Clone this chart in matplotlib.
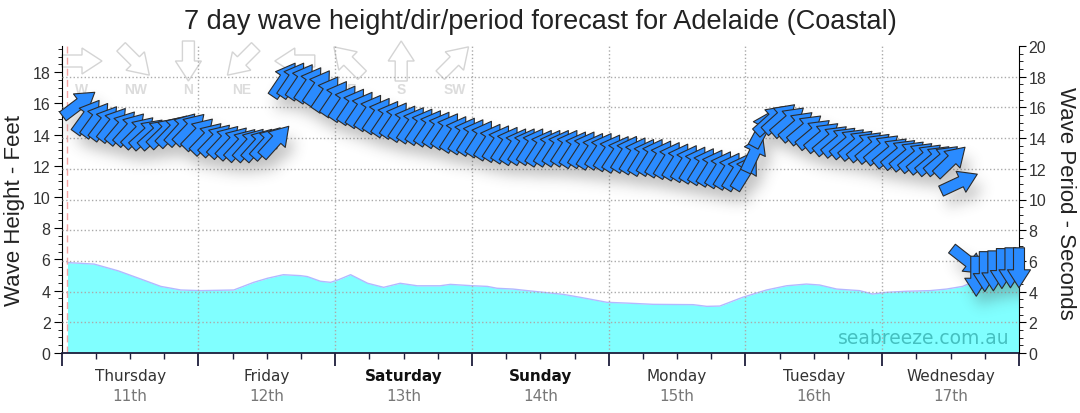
import matplotlib
matplotlib.use("Agg")
import matplotlib.pyplot as plt
import numpy as np
from matplotlib.collections import PolyCollection
from matplotlib.patches import Polygon
from matplotlib.path import Path
from matplotlib.transforms import IdentityTransform

#------------------------------------------------------------------------------
# Data (x in hours since midnight, Thursday 11th)
day_names = ["Thursday", "Friday", "Saturday", "Sunday", "Monday", "Tuesday", "Wednesday"]
day_dates = ["11th", "12th", "13th", "14th", "15th", "16th", "17th"]
weekend = ["Saturday", "Sunday"]
now_hour = 0.9

# wave height (feet), cyan area
height_hours = [1.0, 5.7, 9.9, 13.9, 17.4, 20.9, 24.4, 30.2, 33.7, 36.1, 38.9, 41.9,
                43.1, 45.4, 47.2, 48.6, 50.7, 53.7, 56.5, 59.4, 62.4, 66.4, 68.2, 72.2,
                74.7, 76.4, 79.2, 82.7, 88.0, 91.0, 95.7, 99.2, 103.8, 110.8, 113.2, 115.5,
                119.5, 123.7, 127.2, 130.7, 133.0, 136.0, 140.0, 142.3, 144.8, 148.3, 152.4, 155.3,
                158.1, 159.8, 162.8, 165.4, 168.0]
height_feet = [5.8, 5.7, 5.27, 4.74, 4.27, 4.04, 4.0, 4.04, 4.53, 4.79, 5.02, 4.96,
               4.9, 4.6, 4.53, 4.7, 5.02, 4.47, 4.21, 4.47, 4.31, 4.31, 4.4, 4.31,
               4.27, 4.15, 4.1, 3.96, 3.76, 3.57, 3.25, 3.2, 3.12, 3.1, 2.99, 3.01,
               3.57, 4.04, 4.31, 4.42, 4.36, 4.1, 4.0, 3.78, 3.89, 3.96, 4.0, 4.1,
               4.27, 4.53, 4.85, 5.0, 5.0]

# wave period (seconds) and direction (degrees, coming from), arrows
arrow_hours = [
    3.0, 4.5, 6.0, 7.5, 9.0, 10.5, 12.0, 13.5, 15.0, 16.5, 18.0, 19.5, 21.0, 22.5,
    24.0, 25.5, 27.0, 28.5, 30.0, 31.5, 33.0, 34.5, 36.0, 37.5, 39.0, 40.5, 42.0, 43.5, 45.0, 46.5,
    48.0, 49.5, 51.0, 52.5, 54.0, 55.5, 57.0, 58.5, 60.0, 61.5, 63.0, 64.5, 66.0, 67.5, 69.0, 70.5,
    72.0, 73.5, 75.0, 76.5, 78.0, 79.5, 81.0, 82.5, 84.0, 85.5, 87.0, 88.5, 90.0, 91.5, 93.0, 94.5,
    96.0, 97.5, 99.0, 100.5, 102.0, 103.5, 105.0, 106.5, 108.0, 109.5, 111.0, 112.5, 114.0, 115.5, 117.0, 118.5,
    120.0, 121.5, 123.0, 124.5, 126.0, 127.5, 129.0, 130.5, 132.0, 133.5, 135.0, 136.5, 138.0, 139.5, 141.0, 142.5,
    144.0, 145.5, 147.0, 148.5, 150.0, 151.5, 153.0, 154.5, 156.0, 157.5, 159.0, 160.5, 162.0, 163.5, 165.0, 166.5, 168.0,
]
periods = [
    16.2,
    15.4, 15.2, 15.0, 14.9, 14.7, 14.6, 14.4, 14.3, 14.3, 14.4, 14.5, 14.6,
    14.6, 14.3, 14.0, 13.9, 13.8, 13.7, 13.6, 13.6, 13.6, 13.7, 13.8,
    17.8, 17.8, 17.7, 17.5, 17.3, 16.9, 16.6, 16.3, 16.1, 15.9,
    15.7, 15.5, 15.3, 15.2, 15.0, 14.9, 14.8, 14.7, 14.6, 14.5,
    14.3, 14.2, 14.1, 14.0, 13.8, 13.7, 13.6, 13.5, 13.5, 13.5,
    13.4, 13.4, 13.4, 13.4, 13.3, 13.3, 13.2, 13.2, 13.1, 13.0,
    13.0, 12.9, 12.8, 12.8, 12.7, 12.6, 12.5, 12.4, 12.3, 12.2,
    12.1, 12.0, 11.9, 11.8, 11.8,
    13.0, 14.6,
    15.2, 15.3, 15.1, 14.8, 14.6, 14.3, 14.1, 13.9, 13.8, 13.7, 13.6,
    13.5, 13.4, 13.3, 13.1, 13.0, 12.9, 12.8, 12.7, 12.6, 12.6, 12.5,
    11.1,
    6.0,
    5.0, 5.3, 5.35, 5.5, 5.55, 5.55,
]
directions = [
    233,
    216, 216, 217, 218, 220, 222, 225, 228, 228, 226, 224, 222,
    224, 224, 224, 224, 223, 223, 223, 222, 222, 222, 222,
    214, 214, 214, 214, 214, 214, 214, 214, 214, 214,
    214, 214, 214, 214, 214, 214, 214, 214, 214, 214,
    213, 213, 213, 213, 213, 213, 213, 213, 213, 213,
    213, 213, 213, 213, 213, 213, 213, 213, 213, 213,
    212, 212, 212, 212, 212, 212, 212, 212, 212, 212,
    212, 212, 212, 212, 212,
    205, 208,
    228, 228, 229, 229, 230, 230, 230, 230, 230, 230, 230,
    230, 230, 230, 230, 230, 230, 230, 230, 230, 230, 226,
    245,
    308,
    0, 0, 0, 0, 0, 0,
]

compass_names = ["W", "NW", "N", "NE", "E", "SE", "S", "SW"]
compass_dirs = [270, 315, 0, 45, 90, 135, 180, 225]


def arrow_shape(direction, length=40, shaft=11, head_w=23, head_len=18):
    # arrow in pixels, pointing where the swell travels to
    half = length / 2
    pts = np.array([[-half, -shaft / 2], [half - head_len, -shaft / 2],
                    [half - head_len, -head_w / 2], [half, 0],
                    [half - head_len, head_w / 2], [half - head_len, shaft / 2],
                    [-half, shaft / 2]])
    a = np.radians(-90 - direction)
    rot = np.array([[np.cos(a), -np.sin(a)], [np.sin(a), np.cos(a)]])
    return pts @ rot.T


#------------------------------------------------------------------------------
# Figure
W, H = 1080, 414
fig = plt.figure(figsize=(W / 100, H / 100), dpi=100)
ax = fig.add_axes([61.7 / W, 60 / H, 957.3 / W, 307 / H])
ax2 = ax.twinx()

ax.set_xlim(0, 168)
ax.set_ylim(0, 19.685)
ax2.set_ylim(0, 20)

# wave height area
ax.fill_between(height_hours, height_feet, 0, color="#80ffff", lw=0, zorder=1)
ax.plot(height_hours, height_feet, color="#b4b8ff", lw=1, zorder=1.2)
ax.axvline(now_hour, color="#f4a4a4", ls=(0, (5, 3)), lw=1, zorder=1.3)

# grid
for d in range(24, 168, 24):
    ax.axvline(d, color="#aaaaaa", ls=":", lw=1, zorder=1.5)
for s in range(2, 20, 2):
    ax2.axhline(s, color="#aaaaaa", ls=":", lw=1, zorder=1.5)

# ticks
ax.set_xticks(range(0, 169, 24))
ax.set_xticks(range(0, 169, 6), minor=True)
ax.set_xticklabels([])
ax.set_yticks(range(0, 19, 2))
ax.set_yticks(np.arange(0, 19.6, 0.5), minor=True)
ax2.set_yticks(range(0, 21, 2))
ax2.set_yticks(np.arange(0, 20.1, 0.5), minor=True)

for a in (ax, ax2):
    for lab in a.get_yticklabels():
        lab.set_family("Liberation Sans")
    a.spines["top"].set_visible(False)
ax.spines["right"].set_visible(False)
ax2.spines["left"].set_visible(False)
ax2.spines["bottom"].set_visible(False)
ax.spines["bottom"].set_color("#1e1e3c")
ax.spines["bottom"].set_linewidth(1.3)

ax.tick_params(axis="y", which="major", length=6, labelsize=11.5, labelcolor="#333333", pad=2)
ax.tick_params(axis="y", which="minor", length=3)
ax2.tick_params(axis="y", which="major", length=5, labelsize=11.5, labelcolor="#333333", pad=2)
ax2.tick_params(axis="y", which="minor", length=3)
ax.tick_params(axis="x", which="major", length=9, width=1.3, color="#1e1e3c")
ax.tick_params(axis="x", which="minor", length=4, width=1, color="#1e1e3c")

# day labels
for i, (name, date) in enumerate(zip(day_names, day_dates)):
    ax.text(12 + 24 * i, -0.072, name, transform=ax.get_xaxis_transform(),
            ha="center", va="center", fontsize=11, family="DejaVu Sans",
            color="#111111" if name in weekend else "#333333",
            fontweight="bold" if name in weekend else "normal")
    ax.text(12 + 24 * i, -0.14, date, transform=ax.get_xaxis_transform(),
            ha="center", va="center", fontsize=11, family="DejaVu Sans", color="#777777")

# compass legend (pixel positions)
for i, (name, d) in enumerate(zip(compass_names, compass_dirs)):
    cx, cy = 82 + 53.2 * i, 352
    shape = arrow_shape(d, length=40, shaft=12, head_w=26, head_len=20) + [cx, cy]
    ax.add_patch(Polygon(shape, closed=True, fill=False, edgecolor="#d4d4d4", lw=1,
                         transform=IdentityTransform(), zorder=0.9, clip_on=False))
    ax.text(cx, 324, name, transform=IdentityTransform(), ha="center", va="center",
            fontsize=10, fontweight="bold", color="#dcdcdc", family="Liberation Sans",
            zorder=0.9)

# arrows
verts = [arrow_shape(d) for d in directions]
offsets = np.column_stack([arrow_hours, periods])

# soft shadow under arrows
centers = ax2.transData.transform(offsets)
mask = np.zeros((H, W))
for (cx, cy), v in zip(centers, verts):
    p = v + [cx + 5, cy - 11]
    x0, y0 = np.floor(p.min(0)).astype(int)
    x1, y1 = np.ceil(p.max(0)).astype(int)
    xs, ys = np.meshgrid(np.arange(x0, x1 + 1), np.arange(y0, y1 + 1))
    pts = np.column_stack([xs.ravel() + 0.5, ys.ravel() + 0.5])
    inside = Path(p).contains_points(pts).reshape(xs.shape)
    inside &= (xs >= 0) & (xs < W) & (ys >= 0) & (ys < H)
    mask[ys[inside], xs[inside]] = 1.0
sig = 7
k = np.arange(-3 * sig, 3 * sig + 1)
g = np.exp(-k ** 2 / (2 * sig ** 2))
g /= g.sum()
blur = np.apply_along_axis(lambda r: np.convolve(r, g, mode="same"), 1, mask)
blur = np.apply_along_axis(lambda c: np.convolve(c, g, mode="same"), 0, blur)
img = np.zeros((H, W, 4))
img[..., :3] = 0.25
img[..., 3] = blur * 0.32
inv = ax2.transData.inverted()
ex0, ey0 = inv.transform((0, 0))
ex1, ey1 = inv.transform((W, H))
ax2.imshow(img, extent=[ex0, ex1, ey0, ey1], origin="lower", aspect="auto",
           zorder=3, interpolation="bilinear")
ax2.set_xlim(0, 168)
ax2.set_ylim(0, 20)

arrows = PolyCollection(verts, offsets=offsets, offset_transform=ax2.transData,
                        transform=IdentityTransform(), facecolor="#2a8bff",
                        edgecolor="#2b2b2b", linewidth=0.8, zorder=4, clip_on=False)
ax2.add_collection(arrows, autolim=False)

ax2.text(0.99, 0.052, "seabreeze.com.au", transform=ax2.transAxes, ha="right", va="center",
         fontsize=13.5, family="DejaVu Sans", color="#45c0c0", zorder=2.5)

# titles
fig.text(0.5, 1 - 22 / H, "7 day wave height/dir/period forecast for Adelaide (Coastal)",
         ha="center", va="center", fontsize=19.5, family="Liberation Sans", color="#222222")
fig.text(15 / W, 1 - 211 / H, "Wave Height - Feet", rotation=90, ha="center", va="center",
         fontsize=16, family="Liberation Sans", color="#222222")
fig.text(1066 / W, 1 - 203 / H, "Wave Period - Seconds", rotation=270, ha="center", va="center",
         fontsize=16, family="Liberation Sans", color="#222222")

fig.savefig("out.png", dpi=100)
